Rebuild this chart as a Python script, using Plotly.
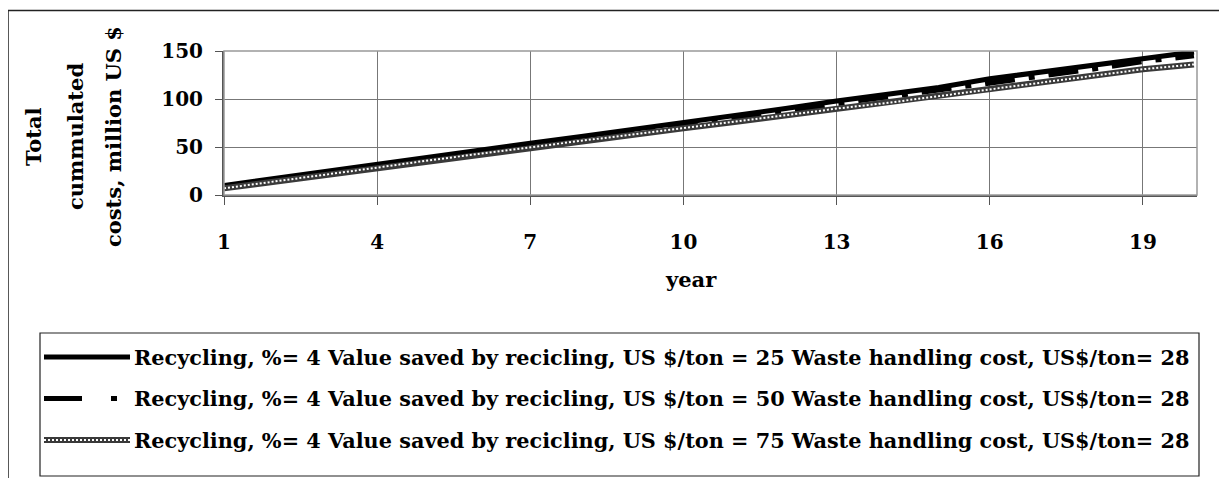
import plotly.graph_objects as go

# ── Dados ─────────────────────────────────────────────────────────────────────
years = list(range(1, 21))

cost_value_25 = [10, 17.5, 25, 32, 39.5, 47, 54, 61, 68, 75,
                 82.5, 90, 98, 105, 112, 121, 128, 135, 143, 149]
cost_value_50 = [9, 16, 23.5, 30.5, 38, 45, 52, 59, 66, 73,
                 80, 87, 95, 102, 109, 117, 124, 131, 139, 145]
cost_value_75 = [7, 14, 21.5, 28.5, 36, 43, 50, 56.5, 63, 69.5,
                 76, 83, 90, 96, 103, 110, 117, 124, 131, 136]

series_labels = [
    "Recycling, %= 4 Value saved by recicling, US $/ton = 25 Waste handling cost, US$/ton= 28",
    "Recycling, %= 4 Value saved by recicling, US $/ton = 50 Waste handling cost, US$/ton= 28",
    "Recycling, %= 4 Value saved by recicling, US $/ton = 75 Waste handling cost, US$/ton= 28",
]

x_tickvals = [1, 4, 7, 10, 13, 16, 19]
y_tickvals = [0, 50, 100, 150]
y_title_lines = ["Total", "cummulated", "costs, million US $"]
x_title = "year"

# ── Layout em pixels (coordenadas da página; o body tem margem de 8px) ────────
OFF = 8
W, H = 1227 - OFF, 478 - OFF
PL, PR, PT, PB = 224, 1197, 51, 195
FONT = "DejaVu Serif"


def xp(px):
    return (px - PL) / (PR - PL)


def yp(py):
    return (PB - py) / (PB - PT)


DASH_50 = "30px,14px,6px,14px"
PATTERN_DARK = "#3a3a3a"

fig = go.Figure()
fig.add_trace(go.Scatter(x=years, y=cost_value_25, mode="lines",
                         line=dict(color="black", width=5), showlegend=False))
fig.add_trace(go.Scatter(x=years, y=cost_value_50, mode="lines",
                         line=dict(color="black", width=5, dash=DASH_50), showlegend=False))
fig.add_trace(go.Scatter(x=years, y=cost_value_75, mode="lines",
                         line=dict(color=PATTERN_DARK, width=6), showlegend=False))
# textura quadriculada da terceira série
fig.add_trace(go.Scatter(x=years, y=cost_value_75, mode="lines",
                         line=dict(color="white", width=2, dash="2px,2px"), showlegend=False))

shapes = []
annotations = []

# moldura externa
shapes.append(dict(type="rect", xref="paper", yref="paper",
                   x0=xp(8), x1=xp(1250), y0=yp(10.5), y1=yp(520),
                   line=dict(color="#222", width=1.5), layer="below"))

# eixo y: título em três linhas
for cx, txt in zip([33, 75, 113], y_title_lines):
    annotations.append(dict(text=f"<b>{txt}</b>", xref="paper", yref="paper",
                            x=xp(cx), y=yp(137), textangle=-90, showarrow=False,
                            xanchor="center", yanchor="middle",
                            font=dict(family=FONT, size=21, color="black")))

annotations.append(dict(text=f"<b>{x_title}</b>", xref="paper", yref="paper",
                        x=xp(691), y=yp(279), showarrow=False,
                        xanchor="center", yanchor="middle",
                        font=dict(family=FONT, size=21, color="black")))

# legenda manual
shapes.append(dict(type="rect", xref="paper", yref="paper",
                   x0=xp(40), x1=xp(1199), y0=yp(333), y1=yp(476),
                   line=dict(color="#222", width=1.2), fillcolor="white"))
rows_y = [357, 398.5, 440]
sym_styles = [
    dict(color="black", width=5),
    dict(color="black", width=5, dash="38px,29px,6px,20px"),
    dict(color=PATTERN_DARK, width=6),
]
for ry, lbl, st in zip(rows_y, series_labels, sym_styles):
    shapes.append(dict(type="line", xref="paper", yref="paper",
                       x0=xp(44), x1=xp(130), y0=yp(ry), y1=yp(ry), line=st))
    annotations.append(dict(text=f"<b>{lbl}</b>", xref="paper", yref="paper",
                            x=xp(132), y=yp(ry), showarrow=False,
                            xanchor="left", yanchor="middle",
                            font=dict(family=FONT, size=20.8, color="black")))
shapes.append(dict(type="line", xref="paper", yref="paper",
                   x0=xp(44), x1=xp(130), y0=yp(rows_y[2]), y1=yp(rows_y[2]),
                   line=dict(color="white", width=2, dash="2px,2px")))

fig.update_layout(
    width=W, height=H,
    margin=dict(l=PL - OFF, r=W + OFF - PR, t=PT - OFF, b=H + OFF - PB),
    paper_bgcolor="white",
    plot_bgcolor="white",
    font=dict(family=FONT, color="black"),
    showlegend=False,
    shapes=shapes,
    annotations=annotations,
)
fig.update_xaxes(
    range=[1, 20.06], tickvals=x_tickvals,
    showgrid=True, gridcolor="#777", gridwidth=1.2,
    showline=True, linecolor="#555", linewidth=2, mirror=False,
    ticks="outside", ticklen=8, tickcolor="#555", tickwidth=1.2,
    ticklabelstandoff=20,
    tickfont=dict(family=FONT, size=20, weight="bold", color="black"),
    zeroline=False,
)
fig.update_yaxes(
    range=[0, 150], tickvals=y_tickvals,
    showgrid=True, gridcolor="#777", gridwidth=1.2,
    showline=True, linecolor="#555", linewidth=2,
    ticks="outside", ticklen=7, tickcolor="#555", tickwidth=1.2,
    ticklabelstandoff=8,
    tickfont=dict(family=FONT, size=20, weight="bold", color="black"),
    zeroline=False,
)
# borda superior/direita da área do gráfico
fig.add_shape(type="rect", xref="paper", yref="paper", x0=0, x1=1, y0=0, y1=1,
              line=dict(color="#999", width=1.5))

fig.write_html("out.html")
